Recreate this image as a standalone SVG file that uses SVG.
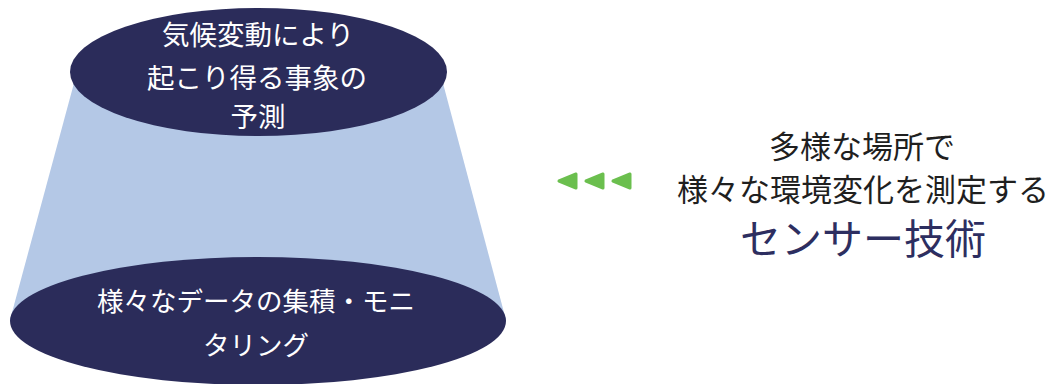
<svg xmlns="http://www.w3.org/2000/svg" width="1057" height="384" viewBox="0 0 1057 384">
<style>
.disk{fill:#2b2c5a}
.cone{fill:#b4c8e6}
.wt{fill:#ffffff;font-family:"Noto Sans CJK JP","Noto Sans",sans-serif;text-anchor:middle}
.bt{fill:#1f1f1f;font-family:"Noto Sans CJK JP","Noto Sans",sans-serif;text-anchor:middle}
.st{fill:#2d2e60;font-family:"Noto Sans CJK JP","Noto Sans",sans-serif;text-anchor:middle}
.arr{fill:#6bbf4e;stroke:#6bbf4e;stroke-width:3;stroke-linejoin:round}
</style>
<rect width="1057" height="384" fill="#ffffff"/>
<g id="cone">
<polygon class="cone" points="77,72 440,72 506,320 10,320"/>
</g>
<g id="bottom-node">
<ellipse class="disk" cx="258" cy="321" rx="248" ry="64"/>
<text class="wt" x="256" y="311" font-size="26.5">様々なデータの集積・モニ</text>
<text class="wt" x="256" y="355" font-size="26.5">タリング</text>
</g>
<g id="top-node">
<ellipse class="disk" cx="258.5" cy="72" rx="188.5" ry="64"/>
<text class="wt" x="258" y="45" font-size="27.5">気候変動により</text>
<text class="wt" x="257" y="88" font-size="27.5">起こり得る事象の</text>
<text class="wt" x="258" y="127" font-size="27.5">予測</text>
</g>
<g id="connectors">
<polygon class="arr" points="559,181 576,174 576,188"/>
<polygon class="arr" points="586,181 603,174 603,188"/>
<polygon class="arr" points="613,181 630,174 630,188"/>
</g>
<g id="sensor-node">
<text class="bt" x="862" y="158" font-size="31">多様な場所で</text>
<text class="bt" x="863" y="201" font-size="31">様々な環境変化を測定する</text>
<text class="st" x="863" y="254" font-size="41">センサー技術</text>
</g>
</svg>
